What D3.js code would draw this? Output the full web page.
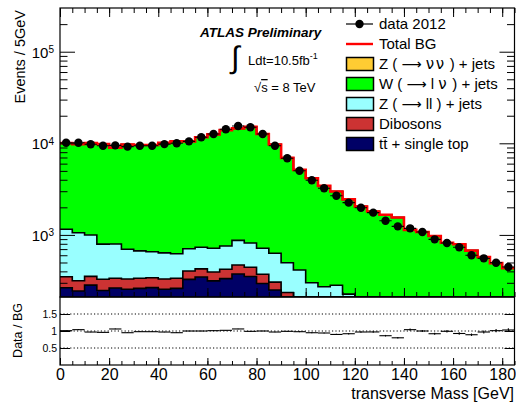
<!DOCTYPE html>
<html><head><meta charset="utf-8">
<script src="https://cdn.jsdelivr.net/npm/d3@7"></script>
<style>
body{margin:0;background:#fff}
svg{display:block}
text{font-family:"Liberation Sans",Arial,Helvetica,sans-serif;fill:#000}
</style>
</head><body>
<svg id="chart" width="516" height="403"></svg>
<script>
// ---------- data ----------
const binCenters = [2.5,7.5,12.5,17.5,22.5,27.5,32.5,37.5,42.5,47.5,52.5,57.5,62.5,67.5,72.5,77.5,82.5,87.5,92.5,97.5,102.5,107.5,112.5,117.5,122.5,127.5,132.5,137.5,142.5,147.5,152.5,157.5,162.5,167.5,172.5,177.5,182.5];
const binWidth = 5;
const dataCounts = [10150,10150,9750,9400,9500,9200,9400,9400,9800,10000,10500,11630,12630,14220,15450,14950,12630,9420,6860,5020,3950,3230,2680,2250,1980,1750,1430,1240,1180,1075,895,815,732,600,555,497,447];
const ttbar    = [265,244,283,247,263,255,261,266,255,261,327,347,315,333,374,352,295,250,210,170,120,90,70,50,0,0,0,0,0,0,0,0,0,0,0,0,0];
const dibosons = [85,72,70,81,73,75,75,75,75,76,77,79,79,89,95,91,77,55,25,20,15,10,8,5,0,0,0,0,0,0,0,0,0,0,0,0,0];
const zll      = [805,738,644,465,460,368,334,315,307,287,301,306,320,334,402,373,342,325,262,224,166,172,204,171,0,0,0,0,0,0,0,0,0,0,0,0,0];
const wjets    = [8900,8710,9060,9000,8170,8990,8920,8940,9470,9900,9800,10900,11790,13190,13700,14290,11920,9080,6430,4710,3860,3160,2700,2220,2040,1800,1660,1550,1135,1075,973,822,790,674,572,492,434];
const znunu    = [0,0,0,0,0,0,0,0,0,0,0,0,0,0,0,0,0,0,0,0,0,0,0,0,0,0,0,0,0,0,0,0,0,0,0,0,0];

const xTickValues = [0,20,40,60,80,100,120,140,160,180];
const xMinorTicks = [0,5,10,15,20,25,30,35,40,45,50,55,60,65,70,75,80,85,90,95,100,105,110,115,120,125,130,135,140,145,150,155,160,165,170,175,180,185];
const yTickValues = [1e3,1e4,1e5];
const yTickExps = ["3","4","5"];
const yMinorTicks = [300,400,500,600,700,800,900,2000,3000,4000,5000,6000,7000,8000,9000,20000,30000,40000,50000,60000,70000,80000,90000,200000];
const ratioTickValues = [0.5,1,1.5];
const ratioTickLabels = ["0.5","1","1.5"];

const stackKeys   = ["tt","dib","zll","w","zvv"];
const stackColors = {tt:"#000066", dib:"#cc3333", zll:"#99ffff", w:"#00ff00", zvv:"#ffcc33"};

// legend labels split into plain / symbol parts
const legendLabels = [
  [["t","data 2012"]],
  [["t","Total BG"]],
  [["t","Z ( "],["a","\u27F6"],["t"," "],["g","\u03BD\u03BD"],["t"," ) + jets"]],
  [["t","W ( "],["a","\u27F6"],["t"," l "],["g","\u03BD"],["t"," ) + jets"]],
  [["t","Z ( "],["a","\u27F6"],["t"," ll ) + jets"]],
  [["t","Dibosons"]],
  [["t","tt\u0304 + single top"]]
];
const legendKinds  = ["data","line","zvv","w","zll","dib","tt"];

// ---------- layout ----------
const L = 60, R = 514.5, T = 8, B = 297, RB = 365;
const svg = d3.select("#chart");

const x  = d3.scaleLinear().domain([0,185]).range([L,R]);
const y  = d3.scaleLog().domain([210,3e5]).range([B,T]).clamp(true);
const yr = d3.scaleLinear().domain([0,2]).range([RB,B]);

const rows = binCenters.map((c,i)=>({c, tt:ttbar[i], dib:dibosons[i], zll:zll[i], w:wjets[i], zvv:znunu[i]}));
const layers = d3.stack().keys(stackKeys)(rows);
const totalBG = rows.map(r=>r.tt+r.dib+r.zll+r.w+r.zvv);

function stepPts(vals){
  const pts=[];
  vals.forEach((v,i)=>{ pts.push([binCenters[i]-binWidth/2, v],[binCenters[i]+binWidth/2, v]); });
  return pts;
}

svg.append("defs").append("clipPath").attr("id","mainClip")
  .append("rect").attr("x",L).attr("y",T).attr("width",R-L).attr("height",B-T);

const main = svg.append("g").attr("clip-path","url(#mainClip)");
const area = d3.area().x(d=>x(d[0])).y0(B).y1(d=>y(Math.max(d[1],1)));
const line = d3.line().x(d=>x(d[0])).y(d=>y(Math.max(d[1],1)));

for (let k = layers.length-1; k >= 0; k--) {
  const lay = layers[k];
  const pts = stepPts(lay.map(d=>d[1]));
  main.append("path").attr("d",area(pts)).attr("fill",stackColors[lay.key]).attr("stroke","none");
  main.append("path").attr("d",line(pts)).attr("fill","none").attr("stroke","#000").attr("stroke-width",1.6);
}
main.append("path").attr("d",line(stepPts(totalBG))).attr("fill","none").attr("stroke","#ff0000").attr("stroke-width",2.6);

const dg = main.append("g");
dataCounts.forEach((v,i)=>{
  dg.append("line").attr("x1",x(binCenters[i]-binWidth/2)).attr("x2",x(binCenters[i]+binWidth/2))
    .attr("y1",y(v)).attr("y2",y(v)).attr("stroke","#000").attr("stroke-width",1.1);
  dg.append("circle").attr("cx",x(binCenters[i])).attr("cy",y(v)).attr("r",4.2).attr("fill","#000");
});

// ---------- axes main ----------
function styleAxis(g){ g.select(".domain").remove(); g.selectAll(".tick line").attr("stroke","#000").attr("stroke-width",1); }
svg.append("g").attr("transform",`translate(0,${T})`).call(d3.axisTop(x).tickValues(xTickValues).tickSize(-9).tickFormat("")).call(styleAxis);
svg.append("g").attr("transform",`translate(0,${T})`).call(d3.axisTop(x).tickValues(xMinorTicks).tickSize(-5).tickFormat("")).call(styleAxis);
svg.append("g").attr("transform",`translate(0,${B})`).call(d3.axisBottom(x).tickValues(xTickValues).tickSize(-9).tickFormat("")).call(styleAxis);
svg.append("g").attr("transform",`translate(0,${B})`).call(d3.axisBottom(x).tickValues(xMinorTicks).tickSize(-5).tickFormat("")).call(styleAxis);

const yAx = svg.append("g").attr("transform",`translate(${L},0)`)
  .call(d3.axisLeft(y).tickValues(yTickValues).tickSizeInner(-15).tickSizeOuter(0).tickPadding(6).tickFormat(()=>"10"))
  .call(styleAxis);
yAx.selectAll(".tick text").attr("font-size",15).attr("dy","0.36em")
  .each(function(d,i){ d3.select(this).append("tspan").attr("dy","-0.45em").attr("font-size",10).text(yTickExps[i]); });
svg.append("g").attr("transform",`translate(${L},0)`).call(d3.axisLeft(y).tickValues(yMinorTicks).tickSize(-7.5).tickFormat("")).call(styleAxis);
svg.append("g").attr("transform",`translate(${R},0)`).call(d3.axisRight(y).tickValues(yTickValues).tickSize(-15).tickFormat("")).call(styleAxis);
svg.append("g").attr("transform",`translate(${R},0)`).call(d3.axisRight(y).tickValues(yMinorTicks).tickSize(-7.5).tickFormat("")).call(styleAxis);

svg.append("rect").attr("x",L).attr("y",T).attr("width",R-L).attr("height",B-T)
  .attr("fill","none").attr("stroke","#000").attr("stroke-width",1.2);

svg.append("text").attr("transform",`translate(24.5,10) rotate(-90)`).attr("text-anchor","end")
  .attr("font-size",14.5).text("Events / 5GeV");

// ---------- ATLAS labels ----------
svg.append("text").attr("x",200).attr("y",37).attr("font-size",13.5).attr("font-weight","bold").attr("font-style","italic").text("ATLAS Preliminary");
svg.append("text").attr("x",231).attr("y",68).attr("font-size",31).attr("font-family","DejaVu Sans").text("\u222B");
const lumi = svg.append("text").attr("x",248).attr("y",65).attr("font-size",13);
lumi.append("tspan").text("Ldt=10.5fb");
lumi.append("tspan").attr("dy",-6).attr("font-size",9).text("-1");
const sq = svg.append("text").attr("x",254).attr("y",92).attr("font-size",13);
sq.append("tspan").text("\u221A");
sq.append("tspan").attr("text-decoration","overline").text("s");
sq.append("tspan").text(" = 8 TeV");

// ---------- legend ----------
const lg = svg.append("g");
legendLabels.forEach((parts,i)=>{
  const cy = 24 + i*20;
  const kind = legendKinds[i];
  if (kind==="data"){
    lg.append("line").attr("x1",346).attr("x2",373).attr("y1",cy).attr("y2",cy).attr("stroke","#000").attr("stroke-width",1.2);
    lg.append("circle").attr("cx",359.5).attr("cy",cy).attr("r",4.2).attr("fill","#000");
  } else if (kind==="line"){
    lg.append("line").attr("x1",346).attr("x2",373).attr("y1",cy).attr("y2",cy).attr("stroke","#ff0000").attr("stroke-width",2.4);
  } else {
    lg.append("rect").attr("x",346.5).attr("y",cy-6.5).attr("width",27).attr("height",13)
      .attr("fill",stackColors[kind]).attr("stroke","#000").attr("stroke-width",1.5);
  }
  const t = lg.append("text").attr("x",379).attr("y",cy+5.3).attr("font-size",15);
  parts.forEach(([k,s])=>{
    const ts = t.append("tspan").text(s);
    if (k==="a") ts.attr("font-family","DejaVu Sans").attr("font-size",14);
    if (k==="g") ts.attr("font-family","DejaVu Sans").attr("letter-spacing",1.5);
  });
});

// ---------- ratio panel ----------
const ratio = dataCounts.map((v,i)=>v/totalBG[i]);
const ratioErr = dataCounts.map((v,i)=>ratio[i]/Math.sqrt(v));

ratioTickValues.forEach(v=>{
  svg.append("line").attr("x1",L).attr("x2",R).attr("y1",yr(v)).attr("y2",yr(v))
    .attr("stroke","#000").attr("stroke-width",1).attr("stroke-dasharray","1.2,2.2");
});
const rg = svg.append("g");
ratio.forEach((r,i)=>{
  rg.append("line").attr("x1",x(binCenters[i]-binWidth/2)).attr("x2",x(binCenters[i]+binWidth/2))
    .attr("y1",yr(r)).attr("y2",yr(r)).attr("stroke","#000").attr("stroke-width",1.1);
  rg.append("line").attr("x1",x(binCenters[i])).attr("x2",x(binCenters[i]))
    .attr("y1",yr(r-ratioErr[i])).attr("y2",yr(r+ratioErr[i])).attr("stroke","#000").attr("stroke-width",1.1);
});

const rAx = svg.append("g").attr("transform",`translate(${L},0)`)
  .call(d3.axisLeft(yr).tickValues(ratioTickValues).tickSizeInner(-10).tickSizeOuter(0).tickPadding(3)
    .tickFormat((d,i)=>ratioTickLabels[i])).call(styleAxis);
rAx.selectAll(".tick text").attr("font-size",10.5);
svg.append("g").attr("transform",`translate(${R},0)`).call(d3.axisRight(yr).tickValues(ratioTickValues).tickSize(-10).tickFormat("")).call(styleAxis);

const xAx = svg.append("g").attr("transform",`translate(0,${RB})`)
  .call(d3.axisBottom(x).tickValues(xTickValues).tickSizeInner(-7).tickSizeOuter(0).tickPadding(4)).call(styleAxis);
xAx.selectAll(".tick text").attr("font-size",16);
svg.append("g").attr("transform",`translate(0,${RB})`).call(d3.axisBottom(x).tickValues(xMinorTicks).tickSize(-4).tickFormat("")).call(styleAxis);

svg.append("rect").attr("x",L).attr("y",B).attr("width",R-L).attr("height",RB-B)
  .attr("fill","none").attr("stroke","#000").attr("stroke-width",1.2);

svg.append("text").attr("transform",`translate(22,303) rotate(-90)`).attr("text-anchor","end")
  .attr("font-size",12.5).text("Data / BG");
svg.append("text").attr("x",514).attr("y",399).attr("text-anchor","end").attr("font-size",16).text("transverse Mass [GeV]");
</script>
</body></html>
